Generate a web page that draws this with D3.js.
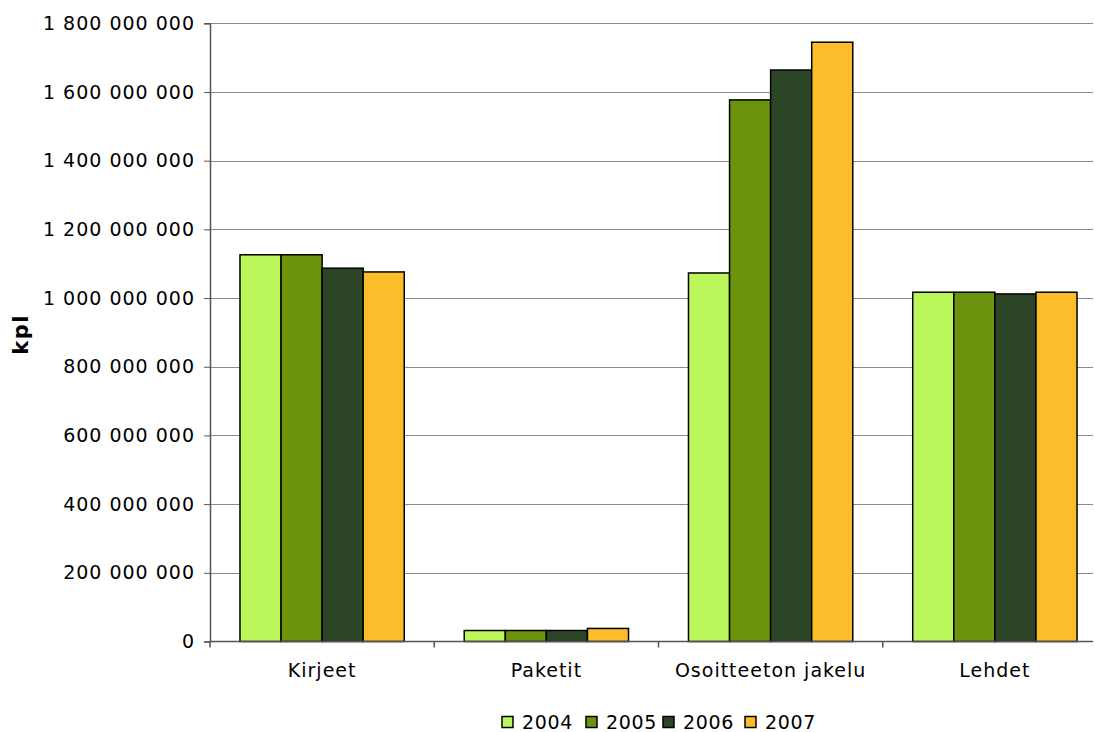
<!DOCTYPE html>
<html>
<head>
<meta charset="utf-8">
<script src="https://cdn.jsdelivr.net/npm/d3@7"></script>
<style>
  html, body { margin: 0; padding: 0; background: #fff; }
  svg { display: block; font-family: "DejaVu Sans", Verdana, sans-serif; }
</style>
</head>
<body>
<svg id="chart" width="1095" height="732"></svg>
<script>
// Postal volumes by category and year (kpl = pieces)
const categories = ["Kirjeet", "Paketit", "Osoitteeton jakelu", "Lehdet"];
const years = ["2004", "2005", "2006", "2007"];
const values2004 = [1126000000, 32000000, 1073000000, 1017000000];
const values2005 = [1126000000, 32000000, 1577000000, 1017000000];
const values2006 = [1087000000, 32000000, 1664000000, 1012000000];
const values2007 = [1076000000, 38000000, 1745000000, 1017000000];
const yTicks = [0, 200000000, 400000000, 600000000, 800000000, 1000000000,
                1200000000, 1400000000, 1600000000, 1800000000];
const colors = ["#bbf75a", "#6b930e", "#2d4527", "#fbbe2a"];

const series = [values2004, values2005, values2006, values2007];

const svg = d3.select("#chart");
const plotLeft = 210, plotRight = 1107, plotTop = 23.3, plotBottom = 641.5;
const lineEnd = 1093;
const FONT = "'DejaVu Sans', Verdana, sans-serif";

const x = d3.scaleBand().domain(categories).range([plotLeft, plotRight]).paddingInner(0).paddingOuter(0);
const xi = d3.scaleBand().domain(years).range([0, x.bandwidth()]).paddingInner(0).paddingOuter(0.73);
const y = d3.scaleLinear().domain([0, 1800000000]).range([plotBottom, plotTop]);

const fmt = d3.formatLocale({ decimal: ",", thousands: " ", grouping: [3], currency: ["", ""] }).format(",d");

// horizontal gridlines
svg.append("g")
  .selectAll("line")
  .data(yTicks.filter(d => d > 0))
  .join("line")
  .attr("x1", plotLeft).attr("x2", lineEnd)
  .attr("y1", d => Math.round(y(d)) + 0.5).attr("y2", d => Math.round(y(d)) + 0.5)
  .attr("stroke", "#8a8a8a").attr("stroke-width", 1);

// bars
const groups = svg.append("g")
  .selectAll("g")
  .data(categories)
  .join("g")
  .attr("transform", d => `translate(${x(d)},0)`);

groups.selectAll("rect")
  .data((c, i) => years.map((yr, j) => ({ year: yr, value: series[j][i], j })))
  .join("rect")
  .attr("x", d => xi(d.year))
  .attr("width", xi.bandwidth())
  .attr("y", d => y(d.value))
  .attr("height", d => y(0) - y(d.value))
  .attr("fill", d => colors[d.j])
  .attr("stroke", "#000")
  .attr("stroke-width", 1.5);

// y axis
const yAxis = d3.axisLeft(y).tickValues(yTicks).tickFormat(fmt).tickSize(6).tickPadding(9);
const gy = svg.append("g").attr("transform", `translate(${plotLeft},0)`).call(yAxis);
gy.select(".domain").attr("stroke", "#555").attr("stroke-width", 1.5);
gy.selectAll(".tick line").attr("stroke", "#555");
gy.selectAll("text").attr("font-size", 19).attr("fill", "#000")
  .attr("letter-spacing", 1).attr("font-family", FONT);

// x axis
const xAxis = d3.axisBottom(x).tickSize(0).tickPadding(22);
const gx = svg.append("g").attr("transform", `translate(0,${plotBottom})`).call(xAxis);
gx.select(".domain").remove();
gx.append("line")
  .attr("x1", plotLeft).attr("x2", lineEnd).attr("y1", 0).attr("y2", 0)
  .attr("stroke", "#555").attr("stroke-width", 1.5);
gx.selectAll("text").attr("font-size", 19).attr("fill", "#000")
  .attr("letter-spacing", 1).attr("font-family", FONT);
// boundary tick marks between categories
gx.append("g").selectAll("line")
  .data(categories)
  .join("line")
  .attr("x1", d => x(d)).attr("x2", d => x(d))
  .attr("y1", 0).attr("y2", 6)
  .attr("stroke", "#555").attr("stroke-width", 1.5);

// axis title
svg.append("text")
  .attr("transform", `translate(28,${(plotTop + plotBottom) / 2 + 2}) rotate(-90)`)
  .attr("text-anchor", "middle")
  .attr("font-size", 21).attr("font-weight", "bold")
  .attr("letter-spacing", 1.5)
  .text("kpl");

// legend
const legendX = [502, 586, 663, 745];
const legend = svg.append("g").attr("transform", "translate(0,722)");
years.forEach((yr, j) => {
  legend.append("rect")
    .attr("x", legendX[j]).attr("y", -5.5)
    .attr("width", 11).attr("height", 11)
    .attr("fill", colors[j]).attr("stroke", "#000").attr("stroke-width", 1.5);
  legend.append("text")
    .attr("x", legendX[j] + 20).attr("y", 0)
    .attr("dy", "0.35em")
    .attr("font-size", 19)
    .attr("letter-spacing", 0.7)
    .text(yr);
});
</script>
</body>
</html>
